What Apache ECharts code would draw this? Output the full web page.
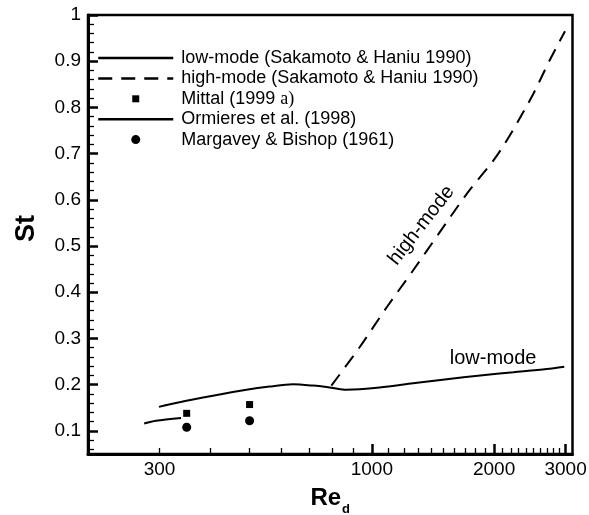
<!DOCTYPE html>
<html><head><meta charset="utf-8">
<script src="https://cdn.jsdelivr.net/npm/echarts@6/dist/echarts.min.js"></script>
<style>html,body{margin:0;padding:0;background:#fff}#c{width:589px;height:515px}</style>
</head><body><div id="c"></div>
<script>
// ---- data ----
const lowRe = [299, 336, 406, 491, 560, 639, 716, 802, 864, 933, 1045, 1263, 1530, 1849, 2233, 2695, 2978];
const lowSt = [0.152, 0.162, 0.176, 0.189, 0.196, 0.201, 0.198, 0.193, 0.189, 0.190, 0.194, 0.203, 0.212, 0.220, 0.227, 0.234, 0.239];
const highRe = [795, 933, 1087, 1263, 1470, 1713, 2048, 2452, 2745, 2990];
const highSt = [0.198, 0.281, 0.367, 0.447, 0.530, 0.613, 0.700, 0.816, 0.903, 0.965];
const mittalRe = [350, 500];
const mittalSt = [0.138, 0.157];
const ormRe = [275, 294, 339];
const ormSt = [0.116, 0.122, 0.128];
const margRe = [350, 500];
const margSt = [0.108, 0.122];
const annotText = ['high-mode', 'low-mode'];
const annotRe = [1325, 1989];
const annotSt = [0.545, 0.256];
const annotRotate = [52, 0];
const seriesNames = ['low-mode (Sakamoto & Haniu 1990)', 'high-mode (Sakamoto & Haniu 1990)', 'Mittal (1999 a)', 'Ormieres et al. (1998)', 'Margavey & Bishop (1961)'];
const xLabels = [300, 1000, 2000, 3000];
const xMajorTicks = [1000, 2000, 3000];
const xMinorTicks = [300, 400, 500, 600, 700, 800, 900, 1100, 1200, 1300, 1400, 1500, 1600, 1700, 1800, 1900, 2100, 2200, 2300, 2400, 2500, 2600, 2700, 2800, 2900];
const yLabels = [0.1, 0.2, 0.3, 0.4, 0.5, 0.6, 0.7, 0.8, 0.9, 1];
const yMinorTicks = [0.06, 0.08, 0.12, 0.14, 0.16, 0.18, 0.22, 0.24, 0.26, 0.28, 0.32, 0.34, 0.36, 0.38, 0.42, 0.44, 0.46, 0.48, 0.52, 0.54, 0.56, 0.58, 0.62, 0.64, 0.66, 0.68, 0.72, 0.74, 0.76, 0.78, 0.82, 0.84, 0.86, 0.88, 0.92, 0.94, 0.96, 0.98];
const xMin = 200, xMax = 3120, yMin = 0.05, yMax = 1;

const zip = (a, b) => a.map((v, i) => [v, b[i]]);
const FF = '"Liberation Sans", Arial, Helvetica, sans-serif';

const chart = echarts.init(document.getElementById('c'), null, {renderer: 'canvas'});
const hideSym = {opacity: 0};
chart.setOption({
  animation: false,
  backgroundColor: '#fff',
  grid: {left: 88, right: 16.5, top: 15, bottom: 61, show: true, borderColor: '#000', borderWidth: 2.5, outerBoundsMode: 'none'},
  legend: {
    orient: 'vertical', left: 97, top: 48, padding: 0, itemWidth: 75, itemHeight: 9, itemGap: 0.4,
    selectedMode: false,
    textStyle: {fontFamily: FF, fontSize: 18, color: '#000', lineHeight: 20, padding: [0, 0, 0, 3],
      rich: {n: {fontFamily: FF, fontSize: 18, color: '#000'}, t: {fontFamily: '"Liberation Serif", "Times New Roman", serif', fontSize: 18, color: '#000'}}},
    formatter: n => n === seriesNames[2] ? '{n|Mittal (1999 }{t|a)}' : n,
    lineStyle: {width: 2.5},
    data: [
      {name: seriesNames[0], itemStyle: hideSym},
      {name: seriesNames[1], itemStyle: hideSym},
      {name: seriesNames[2], icon: 'path://M0,0M9,9M1,1L8,1L8,8L1,8Z', itemStyle: {opacity: 1}},
      {name: seriesNames[3], itemStyle: hideSym},
      {name: seriesNames[4], icon: 'circle', itemStyle: {opacity: 1}}
    ]
  },
  xAxis: [
    {type: 'log', logBase: 10, min: xMin, max: xMax, position: 'bottom', splitLine: {show: false},
      axisLine: {lineStyle: {color: '#000', width: 3}},
      axisTick: {inside: true, length: 10, lineStyle: {color: '#000', width: 2.5}, customValues: xMajorTicks},
      axisLabel: {customValues: xLabels, margin: 6, fontSize: 19, fontFamily: FF, color: '#000', formatter: v => String(v)},
      name: '{b|Re}{s|d}', nameLocation: 'middle', nameGap: 27,
      nameTextStyle: {rich: {
        b: {fontFamily: FF, fontWeight: 'bold', fontSize: 24, color: '#000'},
        s: {fontFamily: FF, fontWeight: 'bold', fontSize: 13, color: '#000', padding: [22, 0, 0, 1]}
      }}
    },
    {type: 'log', logBase: 10, min: xMin, max: xMax, position: 'bottom', splitLine: {show: false},
      axisLine: {show: false},
      axisTick: {inside: true, length: 6, lineStyle: {color: '#000', width: 1.3}, customValues: xMinorTicks},
      axisLabel: {show: false}
    }
  ],
  yAxis: [
    {type: 'value', min: yMin, max: yMax, position: 'left', splitLine: {show: false},
      axisLine: {show: true, lineStyle: {color: '#000', width: 3}},
      axisTick: {show: true, inside: true, length: 10, lineStyle: {color: '#000', width: 2.5}, customValues: yLabels},
      axisLabel: {customValues: yLabels, margin: 7, fontSize: 19, fontFamily: FF, color: '#000', formatter: v => String(Math.round(v * 10) / 10)},
      name: 'St', nameLocation: 'middle', nameRotate: 90, nameGap: 48,
      nameTextStyle: {fontFamily: FF, fontWeight: 'bold', fontSize: 27, color: '#000', padding: [0, 0, 0, 12]}
    },
    {type: 'value', min: yMin, max: yMax, position: 'left', splitLine: {show: false},
      axisLine: {show: false},
      axisTick: {show: true, inside: true, length: 6, lineStyle: {color: '#000', width: 1.3}, customValues: yMinorTicks},
      axisLabel: {show: false}
    }
  ],
  series: [
    {name: seriesNames[0], type: 'line', data: zip(lowRe, lowSt), symbol: 'none', smooth: 0.3, color: '#000',
      lineStyle: {color: '#000', width: 2}},
    {name: seriesNames[1], type: 'line', data: zip(highRe, highSt), symbol: 'none', smooth: 0.3, color: '#000',
      lineStyle: {color: '#000', width: 2, type: [14, 9]}},
    {name: seriesNames[2], type: 'scatter', data: zip(mittalRe, mittalSt), symbol: 'rect', symbolSize: 7, color: '#000', itemStyle: {color: '#000', opacity: 1}},
    {name: seriesNames[3], type: 'line', data: zip(ormRe, ormSt), symbol: 'none', smooth: 0.3, color: '#000',
      lineStyle: {color: '#000', width: 2}},
    {name: seriesNames[4], type: 'scatter', data: zip(margRe, margSt), symbol: 'circle', symbolSize: 9, color: '#000', itemStyle: {color: '#000', opacity: 1}},
    {name: 'annotations', type: 'scatter', symbolSize: 1, itemStyle: {color: 'rgba(0,0,0,0)', opacity: 1}, silent: true,
      data: annotText.map((t, i) => ({name: t, value: [annotRe[i], annotSt[i]], label: {rotate: annotRotate[i]}})),
      label: {show: true, position: 'inside', formatter: '{b}', color: '#000', opacity: 1, textBorderWidth: 0, fontSize: 20, fontFamily: FF}}
  ]
});
</script>
</body></html>
